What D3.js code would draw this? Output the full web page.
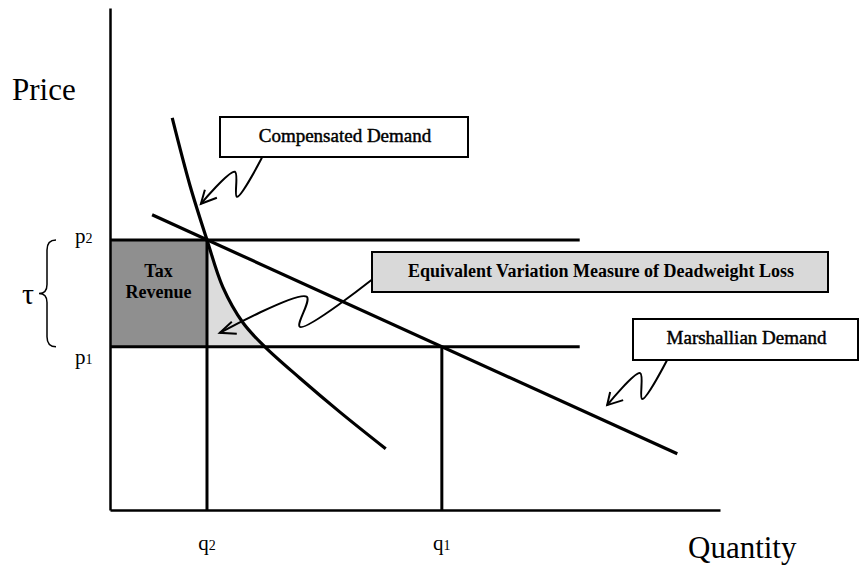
<!DOCTYPE html>
<html>
<head>
<meta charset="utf-8">
<script src="https://cdn.jsdelivr.net/npm/d3@7"></script>
<style>
  body { margin: 0; background: #fff; }
  svg { display: block; font-family: 'Liberation Serif', 'Times New Roman', serif; }
</style>
</head>
<body>
<div id="chart"></div>
<script>
// values, both axes run 0-100
const taxPrices = [32.5, 53.8]        // p1, p2
const taxQuantities = [54.4, 15.9]    // q1, q2
const priceNames = ['p', 'p']
const priceSubs = ['1', '2']
const quantitySubs = ['1', '2']
const priceLineEnd = 77               // horizontal price lines stop here

// marshallian demand (straight line)
const marshallQ = [6.9, 93]
const marshallP = [58.8, 11.2]

// compensated demand (curve)
const compQ = [10.2, 13.1, 15.9, 18.5, 21.8, 25.4, 31.1, 37.7, 45.2]
const compP = [78.1, 64.7, 53.8, 44.4, 37.3, 32.5, 26.3, 19.5, 12.2]

const width = 860
const height = 567

// scales
const xs = d3.scaleLinear([0, 100], [110, 720])
const ys = d3.scaleLinear([0, 100], [510, 8])

const svg = d3.select('#chart')
  .append('svg')
  .attr('width', width)
  .attr('height', height)

const [p1, p2] = taxPrices
const [q1, q2] = taxQuantities

const compPts = compQ.map((q, i) => [q, compP[i]])
const marshPts = marshallQ.map((q, i) => [q, marshallP[i]])

const line = d3.line()
  .x(d => xs(d[0]))
  .y(d => ys(d[1]))
const curve = d3.line()
  .x(d => xs(d[0]))
  .y(d => ys(d[1]))
  .curve(d3.curveCatmullRom.alpha(0.5))

// clip for the equivalent variation area (between q2 and compensated demand)
svg.append('defs')
  .append('clipPath')
  .attr('id', 'ev-clip')
  .append('rect')
  .attr('x', xs(q2))
  .attr('y', ys(p2))
  .attr('width', xs(q1) - xs(q2))
  .attr('height', ys(p1) - ys(p2))

// tax revenue block
svg.append('rect')
  .attr('x', xs(0))
  .attr('y', ys(p2))
  .attr('width', xs(q2) - xs(0))
  .attr('height', ys(p1) - ys(p2))
  .attr('fill', '#8f8f8f')

// EV area: everything left of the compensated curve, clipped to the band
const last = compPts[compPts.length - 1]
svg.append('path')
  .attr('d', curve(compPts) + `L${xs(0)},${ys(last[1])}L${xs(0)},${ys(compPts[0][1])}Z`)
  .attr('fill', '#dcdcdc')
  .attr('clip-path', 'url(#ev-clip)')

// axes, no ticks
svg.append('g')
  .attr('transform', `translate(0,${ys(0)})`)
  .call(d3.axisBottom(xs).tickValues([]).tickSizeOuter(0))
  .call(g => g.select('.domain').attr('stroke', '#000').attr('stroke-width', 2.5))
svg.append('g')
  .attr('transform', `translate(${xs(0)},0)`)
  .call(d3.axisLeft(ys).tickValues([]).tickSizeOuter(0))
  .call(g => g.select('.domain').attr('stroke', '#000').attr('stroke-width', 2.5))

// price lines and quantity drops
const guides = svg.append('g')
  .attr('stroke', '#000')
  .attr('stroke-width', 3)
taxPrices.forEach(p => {
  guides.append('line')
    .attr('x1', xs(0)).attr('x2', xs(priceLineEnd))
    .attr('y1', ys(p)).attr('y2', ys(p))
})
taxQuantities.forEach((q, i) => {
  guides.append('line')
    .attr('x1', xs(q)).attr('x2', xs(q))
    .attr('y1', ys(taxPrices[i])).attr('y2', ys(0))
})

// demand curves
svg.append('path')
  .attr('d', line(marshPts))
  .attr('fill', 'none')
  .attr('stroke', '#000')
  .attr('stroke-width', 3.2)
svg.append('path')
  .attr('d', curve(compPts))
  .attr('fill', 'none')
  .attr('stroke', '#000')
  .attr('stroke-width', 3.2)

// axis titles
svg.append('text')
  .attr('x', 12).attr('y', 100)
  .attr('font-size', 31)
  .text('Price')
svg.append('text')
  .attr('x', 688).attr('y', 558)
  .attr('font-size', 31)
  .text('Quantity')

// p / q labels with subscripts
taxPrices.forEach((p, i) => {
  const t = svg.append('text')
    .attr('x', 75)
    .attr('y', ys(p) + (i === 1 ? 3 : 17))
    .attr('font-size', 21)
  t.append('tspan').text(priceNames[i])
  t.append('tspan').attr('font-size', 14).text(priceSubs[i])
})
taxQuantities.forEach((q, i) => {
  const t = svg.append('text')
    .attr('x', xs(q))
    .attr('y', 550)
    .attr('font-size', 21)
    .attr('text-anchor', 'middle')
  t.append('tspan').text('q')
  t.append('tspan').attr('font-size', 14).text(quantitySubs[i])
})

// tau brace
const yTop = ys(p2)
const yBot = ys(p1)
const yMid = (yTop + yBot) / 2
svg.append('path')
  .attr('d', `M56,${yTop} Q47,${yTop} 47,${yTop + 10} L47,${yMid - 9} Q47,${yMid} 39,${yMid}`
    + ` Q47,${yMid} 47,${yMid + 9} L47,${yBot - 10} Q47,${yBot} 56,${yBot}`)
  .attr('fill', 'none')
  .attr('stroke', '#000')
  .attr('stroke-width', 1.5)
svg.append('text')
  .attr('x', 28).attr('y', yMid + 11)
  .attr('font-size', 30)
  .attr('text-anchor', 'middle')
  .text('τ')

// tax revenue label
const revMid = (xs(0) + xs(q2)) / 2
svg.append('text')
  .attr('x', revMid).attr('y', yMid - 16)
  .attr('font-size', 18).attr('font-weight', 'bold')
  .attr('text-anchor', 'middle')
  .text('Tax')
svg.append('text')
  .attr('x', revMid).attr('y', yMid + 5)
  .attr('font-size', 18).attr('font-weight', 'bold')
  .attr('text-anchor', 'middle')
  .text('Revenue')

// callouts: box in pixels, arrow tip on the chart (data units), squiggle as offsets from tip
const callouts = [
  {
    text: 'Compensated Demand', box: [220, 117, 248, 40], fill: '#fff', bold: false, size: 19,
    tip: [14.9, 61.0], path: [[61, -46], [36, -7], [34, -32], [0, 0]], barbs: [[4, -14], [16, -6]]
  },
  {
    text: 'Equivalent Variation Measure of Deadweight Loss', box: [372, 252, 456, 40], fill: '#d9d9d9', bold: true, size: 18,
    tip: [18.0, 35.3], path: [[152, -53], [80, -6], [87, -36], [0, 0]], barbs: [[12, -11], [17, 1]]
  },
  {
    text: 'Marshallian Demand', box: [633, 319, 225, 41], fill: '#fff', bold: false, size: 19,
    tip: [81.5, 20.9], path: [[60, -45], [35, -6], [33, -32], [0, 0]], barbs: [[3, -13], [16, -5]]
  }
]

const squiggle = d3.line().curve(d3.curveCatmullRom.alpha(0.5))
callouts.forEach(c => {
  const [bx, by, bw, bh] = c.box
  const tx = xs(c.tip[0])
  const ty = ys(c.tip[1])
  const g = svg.append('g')
  g.append('path')
    .attr('d', squiggle(c.path.map(d => [tx + d[0], ty + d[1]])))
    .attr('fill', 'none')
    .attr('stroke', '#000')
    .attr('stroke-width', 2)
  g.append('path')
    .attr('d', `M${tx + c.barbs[0][0]},${ty + c.barbs[0][1]}L${tx},${ty}L${tx + c.barbs[1][0]},${ty + c.barbs[1][1]}`)
    .attr('fill', 'none')
    .attr('stroke', '#000')
    .attr('stroke-width', 2)
  g.append('rect')
    .attr('x', bx).attr('y', by)
    .attr('width', bw).attr('height', bh)
    .attr('fill', c.fill)
    .attr('stroke', '#000')
    .attr('stroke-width', 2)
  // the scanned regular labels read a bit heavier, so give them a hairline stroke
  g.append('text')
    .attr('x', bx + bw / 2 + 1)
    .attr('y', by + 25)
    .attr('font-size', c.size)
    .attr('font-weight', c.bold ? 'bold' : 'normal')
    .attr('stroke', c.bold ? 'none' : '#000')
    .attr('stroke-width', 0.45)
    .attr('text-anchor', 'middle')
    .text(c.text)
})
</script>
</body>
</html>
